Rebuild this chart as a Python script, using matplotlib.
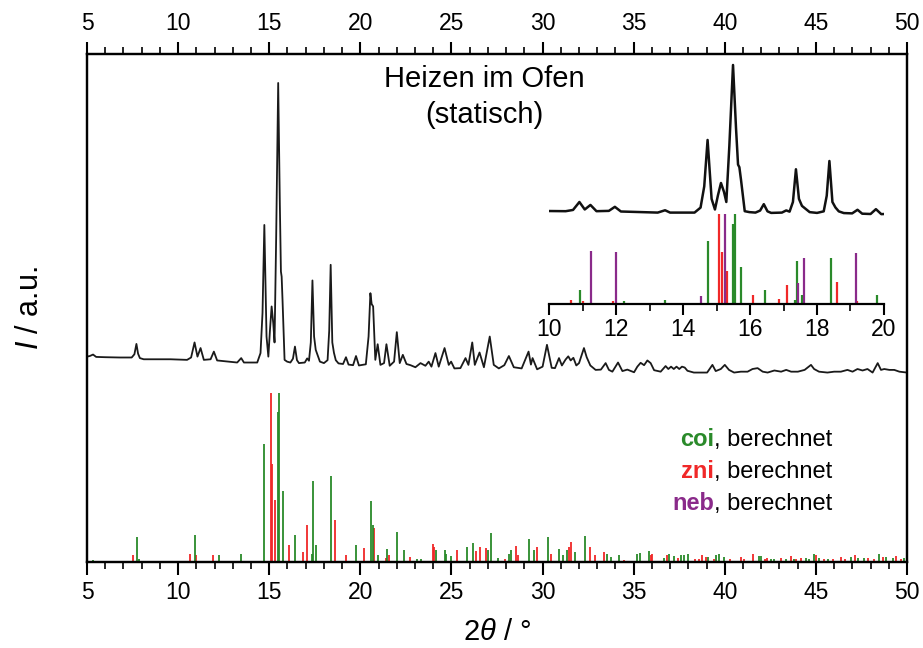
import matplotlib
matplotlib.use("Agg")
import matplotlib.pyplot as plt
from matplotlib.ticker import MultipleLocator

plt.rcParams['font.family'] = ['Liberation Sans', 'DejaVu Sans']
plt.rcParams['mathtext.fontset'] = 'custom'
plt.rcParams['mathtext.rm'] = 'Liberation Sans'
plt.rcParams['mathtext.it'] = 'Liberation Sans:italic'

# measured pattern, oven heating (static)
tth = [5.00, 5.15, 5.33, 5.50, 6.00, 6.80, 7.45, 7.60, 7.71, 7.80, 7.90, 8.11, 9.00, 9.58,
       10.49, 10.71, 10.90, 11.06, 11.23, 11.41, 11.78, 11.96, 12.14, 12.80, 13.24, 13.46,
       13.61, 14.34, 14.52, 14.63, 14.73, 14.85, 14.95, 15.04, 15.13, 15.22, 15.29, 15.38,
       15.49, 15.58, 15.64, 15.68, 15.73, 15.84, 15.98, 16.16, 16.30, 16.41, 16.52, 16.63,
       16.95, 17.08, 17.18, 17.28, 17.37, 17.46, 17.55, 17.65, 17.78, 18.00, 18.20, 18.29,
       18.37, 18.46, 18.55, 18.65, 18.80, 19.05, 19.21, 19.35, 19.60, 19.76, 19.92, 20.30,
       20.45, 20.55, 20.62, 20.70, 20.82, 20.95, 21.10, 21.30, 21.43, 21.61, 21.85, 22.00,
       22.16, 22.33, 22.53, 22.75, 23.02, 23.30, 23.57, 23.75, 23.90, 24.12, 24.30, 24.62,
       24.85, 24.98, 25.16, 25.49, 25.77, 25.93, 26.14, 26.28, 26.54, 26.78, 27.10, 27.32,
       27.60, 27.90, 28.15, 28.42, 28.85, 29.23, 29.36, 29.45, 29.70, 30.00, 30.24, 30.50,
       30.68, 30.90, 31.06, 31.26, 31.41, 31.54, 31.69, 31.85, 32.00, 32.27, 32.42, 32.62,
       32.91, 33.20, 33.46, 33.64, 33.83, 34.14, 34.38, 34.65, 35.02, 35.20, 35.38, 35.57,
       35.75, 35.93, 36.12, 36.48, 36.75, 36.90, 37.05, 37.20, 37.35, 37.50, 37.65, 37.80,
       37.95, 38.30, 39.03, 39.32, 39.50, 39.78, 40.00, 40.23, 40.51, 40.88, 41.25, 41.52,
       41.80, 42.08, 42.35, 42.72, 43.09, 43.37, 43.64, 44.01, 44.38, 44.73, 44.90, 45.17,
       45.63, 46.00, 46.37, 46.73, 47.01, 47.28, 47.56, 47.83, 48.11, 48.39, 48.57, 48.75,
       49.03, 49.30, 49.58, 50.00]
counts = [7.2, 7.4, 7.9, 7.1, 7.0, 6.9, 6.9, 8.0, 11.5, 8.2, 6.7, 6.3, 6.3, 6.3,
          6.1, 6.9, 12.0, 7.2, 10.1, 6.1, 6.3, 8.9, 5.9, 5.5, 5.2, 6.7,
          5.2, 5.2, 8.4, 22.0, 51.8, 14.0, 7.2, 16.3, 24.2, 18.5, 12.0, 47.9,
          99.9, 59.2, 36.0, 34.3, 26.0, 6.1, 5.5, 5.2, 6.5, 10.6, 6.0, 5.0,
          5.2, 6.6, 5.8, 12.0, 33.0, 14.0, 9.5, 7.8, 5.5, 5.0, 6.0, 16.0,
          38.3, 12.0, 8.5, 6.0, 4.9, 4.7, 7.0, 4.5, 4.3, 7.4, 4.2, 4.6,
          14.0, 28.7, 25.0, 24.2, 6.1, 11.4, 4.4, 5.0, 11.4, 4.1, 5.5, 15.5,
          5.0, 7.8, 4.7, 4.3, 3.6, 5.0, 4.1, 5.5, 3.8, 8.4, 3.8, 10.1,
          4.4, 5.5, 3.2, 3.3, 6.7, 4.4, 12.0, 4.4, 8.6, 3.6, 14.0, 4.4,
          3.2, 4.3, 7.4, 3.6, 3.2, 8.9, 4.5, 6.7, 2.9, 3.8, 11.2, 3.4,
          3.3, 6.7, 4.2, 6.2, 7.3, 5.9, 6.8, 4.2, 5.0, 10.1, 7.0, 4.2,
          2.7, 2.8, 5.0, 2.7, 2.1, 5.2, 2.3, 2.8, 1.9, 3.8, 5.1, 4.3,
          5.9, 5.0, 2.6, 2.1, 4.0, 3.0, 3.8, 3.0, 3.8, 3.0, 3.8, 3.5,
          2.4, 1.8, 1.8, 4.4, 2.3, 3.0, 4.4, 2.7, 1.8, 2.1, 2.1, 3.0,
          3.3, 2.1, 1.8, 2.5, 2.1, 2.7, 2.1, 2.1, 2.7, 4.4, 3.0, 2.1,
          1.8, 2.1, 2.1, 2.7, 2.1, 3.0, 2.5, 3.0, 1.8, 5.0, 2.7, 3.0,
          2.7, 2.7, 2.1, 1.8]

# calculated reflections (position, relative intensity)
coi_pos = [5.35, 7.72, 7.83, 10.92, 12.22, 13.47, 14.73, 15.49, 15.55, 15.73, 16.44,
           17.35, 17.41, 17.56, 18.41, 19.78, 20.59, 20.70, 20.97, 21.45, 22.03, 22.37,
           23.10, 23.35, 24.13, 24.62, 24.72, 24.97, 25.86, 26.17, 27.02, 27.15, 27.56,
           28.17, 28.28, 29.26, 29.53, 30.28, 30.92, 31.12, 31.36, 31.76, 32.30, 33.55,
           33.77, 34.19, 35.19, 35.35, 35.84, 36.66, 36.93, 37.20, 37.57, 37.75, 37.97,
           39.05, 39.50, 39.69, 39.96, 41.89, 42.01, 42.53, 42.71, 43.35, 43.77, 44.45,
           44.63, 44.91, 45.18, 45.64, 46.92, 47.29, 47.65, 48.48, 48.84, 49.21, 49.85]
coi_int = [1.0, 14.8, 2.0, 16.0, 4.0, 5.0, 70.0, 89.0, 100.0, 42.0, 16.0,
           5.0, 48.0, 10.0, 51.0, 10.0, 36.0, 22.0, 4.0, 8.0, 18.0, 7.0,
           2.0, 2.0, 7.0, 7.3, 4.5, 3.3, 9.0, 11.0, 7.0, 17.3, 2.3,
           4.5, 7.0, 13.8, 7.0, 14.8, 8.0, 4.0, 7.0, 6.0, 15.2, 4.5,
           3.0, 4.0, 4.5, 5.6, 6.5, 2.6, 5.0, 3.4, 4.0, 4.0, 4.5,
           3.0, 4.0, 5.0, 3.0, 3.5, 3.5, 2.0, 2.0, 2.0, 2.0, 2.5,
           2.0, 5.0, 2.5, 2.0, 3.0, 2.5, 2.5, 5.0, 3.0, 2.5, 2.5]

zni_pos = [7.51, 10.64, 11.00, 11.89, 15.07, 15.15, 15.32, 16.09, 16.86, 17.09, 18.59,
           19.20, 20.20, 20.75, 21.39, 21.58, 22.72, 23.99, 24.06, 25.28, 26.36, 26.56,
           26.91, 27.96, 28.56, 28.64, 29.71, 30.48, 31.47, 31.54, 32.58, 32.87, 33.37,
           34.46, 35.97, 36.02, 36.84, 37.42, 38.39, 38.60, 38.77, 38.95, 39.38, 40.29,
           40.88, 41.06, 41.57, 42.20, 42.34, 43.08, 43.63, 43.90, 44.17, 45.00, 45.46,
           45.91, 46.37, 46.59, 47.14, 47.84, 48.20, 48.66, 49.39, 49.67]
zni_int = [4.4, 5.0, 4.0, 4.0, 100.0, 58.0, 37.0, 10.0, 6.0, 22.0, 25.0,
           4.0, 8.3, 20.0, 2.5, 4.4, 2.8, 10.7, 8.9, 7.0, 6.5, 8.9,
           8.4, 1.5, 9.6, 4.0, 8.9, 5.0, 8.9, 11.9, 8.9, 4.0, 5.9,
           1.4, 4.0, 5.0, 4.0, 2.6, 2.0, 2.0, 4.0, 3.0, 2.0, 2.0,
           3.0, 2.0, 4.5, 2.0, 2.5, 2.5, 3.5, 2.0, 2.5, 4.0, 2.0,
           2.0, 3.0, 2.0, 4.0, 2.5, 2.0, 3.0, 3.5, 2.0]

neb_pos = [11.24, 11.99, 14.53, 15.25, 17.42, 17.62, 19.16]
neb_int = [59.6, 58.4, 9.3, 100.0, 24.0, 51.0, 56.6]

green = '#2a8a2a'
red = '#f02828'
purple = '#8a2a8a'

fig = plt.figure(figsize=(9.23, 6.48), dpi=100)
ax = fig.add_axes([0.0943, 0.1327, 0.8884, 0.7840])

# main panel: sticks at the bottom, measured curve shifted above
main_off, main_scale = 109.1, 1.749
ax.vlines(zni_pos, 0, zni_int, color=red, lw=1.3)
ax.vlines(coi_pos, 0, coi_int, color=green, lw=1.3)
ax.plot(tth, [main_off + main_scale * c for c in counts], color='#1a1a1a', lw=1.3)

ax.set_xlim(5, 50)
ax.set_ylim(0, 301)
ax.xaxis.set_major_locator(MultipleLocator(5))
ax.xaxis.set_minor_locator(MultipleLocator(1))
ax.set_yticks([])
for s in ax.spines.values():
    s.set_linewidth(1.6)
ax.tick_params(axis='x', which='major', direction='out', length=9, width=1.5,
               labelsize=16.5, pad=5)
ax.tick_params(axis='x', which='minor', direction='out', length=5, width=1.2)

top = ax.twiny()
top.set_xlim(5, 50)
top.xaxis.set_major_locator(MultipleLocator(5))
top.xaxis.set_minor_locator(MultipleLocator(1))
top.tick_params(axis='x', which='major', direction='out', length=9, width=1.5,
                labelsize=16.5, pad=5)
top.tick_params(axis='x', which='minor', direction='out', length=5, width=1.2)
top.set_yticks([])
for s in top.spines.values():
    s.set_linewidth(1.6)

ax.set_xlabel(r'2$\theta$ / °', fontsize=21, labelpad=10)
ax.set_ylabel(r'$I$ / a.u.', fontsize=22, labelpad=30)

ax.text(0.485, 0.978, 'Heizen im Ofen\n(statisch)', transform=ax.transAxes,
        ha='center', va='top', fontsize=21, linespacing=1.35)

# reflection labels
for yy, name, col in [(0.228, 'coi', green), (0.166, 'zni', red), (0.102, 'neb', purple)]:
    t = ax.text(0.9085, yy, ', berechnet', transform=ax.transAxes,
                ha='right', va='baseline', fontsize=17)
    ax.annotate(name, xy=(0, yy), xycoords=(t, ax.transAxes), ha='right',
                va='baseline', fontsize=17, fontweight='bold', color=col)

# inset: 10-20 degrees
ins = fig.add_axes([0.5951, 0.5304, 0.3626, 0.3858])
ins_off, ins_scale = 92.9, 1.732
ins.vlines(zni_pos, 0, zni_int, color=red, lw=1.6)
ins.vlines(coi_pos, 0, coi_int, color=green, lw=1.6)
ins.vlines(neb_pos, 0, neb_int, color=purple, lw=1.6)
ins.plot(tth, [ins_off + ins_scale * c for c in counts], color='#111111', lw=1.8)
ins.set_xlim(10, 20)
ins.set_ylim(0, 277.8)
ins.patch.set_alpha(0)
for side in ['top', 'left', 'right']:
    ins.spines[side].set_visible(False)
ins.spines['bottom'].set_linewidth(1.6)
ins.set_yticks([])
ins.xaxis.set_major_locator(MultipleLocator(2))
ins.xaxis.set_minor_locator(MultipleLocator(1))
ins.tick_params(axis='x', which='major', direction='out', length=8, width=1.5,
                labelsize=16.5, pad=2)
ins.tick_params(axis='x', which='minor', direction='out', length=5, width=1.2)

fig.savefig('out.png', dpi=100)
